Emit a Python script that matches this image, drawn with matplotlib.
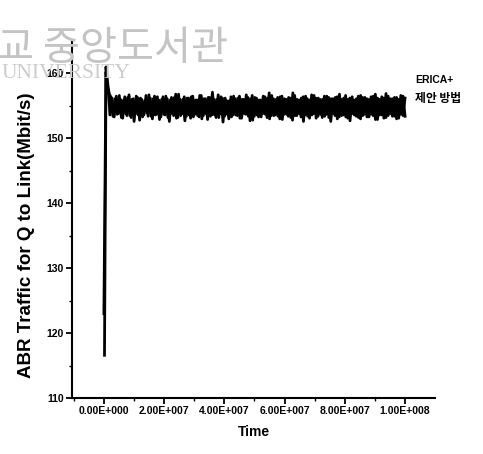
import numpy as np
import matplotlib.pyplot as plt
from matplotlib.ticker import MultipleLocator, FixedLocator

plt.rcParams['font.family'] = ['Liberation Sans', 'Noto Sans CJK KR', 'DejaVu Sans']

# start-up transient (time, rate) for both schemes
erica_start_t = [0.0, 0.7e6, 1.0e6, 1.4e6, 1.8e6]
erica_start = [123.0, 161.0, 159.6, 157.9, 156.8]
prop_start_t = [0.2e6, 0.7e6, 1.1e6, 1.6e6]
prop_start = [116.6, 160.2, 158.4, 156.9]

# steady-state rate samples, Mbit/s
erica_rate = [
    156.4, 153.4, 156.1, 153.7, 156.6, 153.2, 155.9, 153.8, 156.3, 153.5,
    156.0, 152.6, 156.5, 153.6, 156.2, 153.3, 155.8, 153.9, 156.7, 153.4,
    156.1, 153.6, 156.4, 152.9, 156.0, 153.7, 156.5, 153.2, 155.9, 153.8,
    156.3, 153.1, 156.8, 153.5, 156.0, 152.7, 156.2, 153.6, 156.4, 153.3,
    155.9, 153.5, 156.6, 153.0, 156.1, 153.8, 156.3, 153.4, 157.1, 153.6,
    156.0, 153.2, 156.4, 152.5, 156.2, 153.7, 155.8, 153.3, 156.5, 153.6,
    156.2, 153.1, 156.0, 153.8, 156.7, 153.4, 156.1, 152.8, 156.3, 153.6,
    155.9, 153.3, 156.5, 153.7, 156.2, 153.0, 156.6, 153.5, 156.0, 153.4,
    156.4, 152.9, 156.1, 153.7, 156.3, 153.2, 157.0, 153.5, 156.0, 153.8,
    156.2, 152.6, 156.5, 153.4, 155.9, 153.6, 156.6, 153.1, 156.2, 153.7,
    156.0, 153.4, 156.5, 153.2, 156.1, 153.8, 156.3, 153.0, 156.8, 153.5,
    156.2, 153.3, 156.0, 152.7, 156.4, 153.6, 156.1, 153.2, 156.6, 153.5,
    156.3, 153.3, 156.0, 153.7, 156.5, 152.9, 156.2, 153.6, 156.4, 153.1,
    156.9, 153.5, 156.1, 153.4, 156.3, 153.0, 156.0, 153.7, 156.5, 153.4,
]
prop_rate = [
    153.6, 156.2, 153.3, 156.5, 153.8, 156.0, 153.1, 156.4, 153.5, 156.7,
    153.2, 156.1, 153.7, 156.3, 152.8, 156.0, 153.6, 156.6, 153.4, 156.2,
    153.0, 156.5, 153.7, 155.9, 153.3, 156.4, 153.6, 156.1, 152.6, 156.3,
    153.5, 156.8, 153.2, 156.0, 153.8, 156.4, 153.4, 156.2, 153.1, 156.5,
    153.7, 155.9, 153.3, 156.6, 153.5, 156.1, 152.9, 156.3, 153.6, 156.0,
    153.2, 156.7, 153.8, 156.2, 153.4, 155.8, 153.0, 156.4, 153.6, 156.1,
    153.5, 156.5, 153.1, 156.0, 153.7, 156.3, 152.7, 156.6, 153.4, 156.2,
    153.3, 155.9, 153.8, 156.4, 153.2, 157.0, 153.5, 156.1, 153.6, 156.3,
    153.0, 156.5, 153.7, 156.0, 153.4, 156.2, 152.8, 156.6, 153.5, 155.9,
    153.3, 156.4, 153.6, 156.1, 153.1, 156.7, 153.8, 156.2, 153.4, 156.0,
    153.2, 156.5, 153.7, 156.3, 152.6, 156.1, 153.5, 156.4, 153.3, 156.0,
    153.6, 156.6, 153.1, 156.2, 153.8, 155.9, 153.4, 156.5, 153.0, 156.3,
    153.7, 156.1, 153.3, 156.4, 153.5, 156.8, 152.9, 156.0, 153.6, 156.2,
    153.2, 156.5, 153.8, 156.1, 153.4, 156.3, 153.1, 156.6, 153.5, 156.2,
]

erica_t = np.concatenate([erica_start_t, np.linspace(2.3e6, 1.0e8, len(erica_rate))])
erica_y = np.concatenate([erica_start, erica_rate])
prop_t = np.concatenate([prop_start_t, np.linspace(2.0e6, 1.0e8, len(prop_rate))])
prop_y = np.concatenate([prop_start, prop_rate])

x_ticks = [0, 2e7, 4e7, 6e7, 8e7, 1e8]
x_ticklabels = ["0.00E+000", "2.00E+007", "4.00E+007", "6.00E+007", "8.00E+007", "1.00E+008"]
y_ticks = [110, 120, 130, 140, 150, 160]

fig = plt.figure(figsize=(4.83, 4.54), dpi=100)

# faint library stamp in the background
fig.text(0.472, 0.893, "학교 중앙도서관", fontsize=29, color="#c4c4c4",
         family=['Noto Sans CJK KR'], ha="right", va="center", zorder=0)
fig.text(0.004, 0.838, "UNIVERSITY", fontsize=15.5, color="#cccccc",
         family=['Liberation Serif'], ha="left", va="center", zorder=0)

ax = fig.add_axes([0.149, 0.123, 0.752, 0.784])
ax.patch.set_alpha(0)

ax.plot(erica_t, erica_y, color="black", lw=2.0)
ax.plot(prop_t, prop_y, color="black", lw=2.0)

ax.set_xlim(-1.06e7, 1.1e8)
ax.set_ylim(110, 164.8)
ax.spines['top'].set_visible(False)
ax.spines['right'].set_visible(False)
ax.spines['left'].set_linewidth(1.5)
ax.spines['bottom'].set_linewidth(1.5)

ax.set_xticks(x_ticks)
ax.set_xticklabels(x_ticklabels)
ax.xaxis.set_minor_locator(FixedLocator([-1e7, 1e7, 3e7, 5e7, 7e7, 9e7]))
ax.set_yticks(y_ticks)
ax.yaxis.set_minor_locator(MultipleLocator(5))
ax.tick_params(which="major", direction="out", length=4, width=1.3,
               labelsize=7.5, pad=2)
ax.tick_params(which="minor", direction="out", length=2.5, width=1.0)
for lbl in ax.get_xticklabels() + ax.get_yticklabels():
    lbl.set_fontweight("bold")

ax.set_xlabel("Time", fontsize=10, fontweight="bold", labelpad=6)
ax.set_ylabel("ABR Traffic for Q to Link(Mbit/s)", fontsize=13.5,
              fontweight="bold")
ax.yaxis.set_label_coords(-0.103, 0.458)

# series names at the right end of the traces
fig.text(0.859, 0.823, "ERICA+", fontsize=7.5, fontweight="bold", ha="left", va="center")
fig.text(0.859, 0.784, "제안 방법", fontsize=8.5, fontweight="bold",
         family=['Noto Sans CJK KR'], ha="left", va="center")

fig.savefig("out.png", dpi=100)
